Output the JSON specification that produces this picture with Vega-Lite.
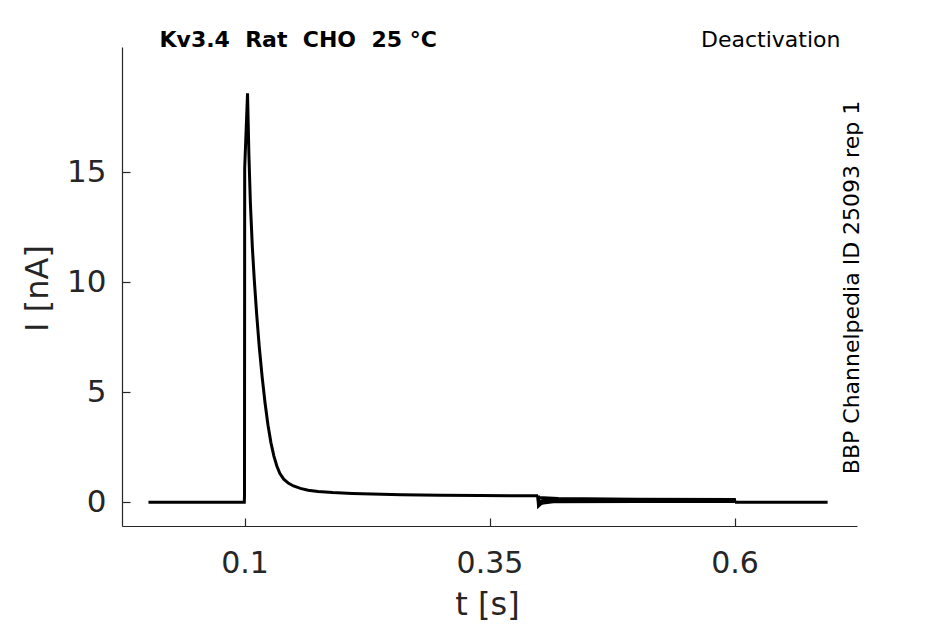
{
  "$schema": "https://vega.github.io/schema/vega-lite/v6.json",
  "width": 735,
  "height": 479,
  "autosize": {"type": "none"},
  "padding": {"left": 122, "top": 47, "right": 88, "bottom": 98},
  "background": "white",
  "config": {
    "view": {"stroke": null},
    "font": "DejaVu Sans",
    "axis": {"grid": false, "labelFont": "DejaVu Sans", "titleFont": "DejaVu Sans"}
  },
  "data": {
    "values": [
      {"t": 0.002, "I": 0, "sweep": "s0"},
      {"t": 0.0998, "I": 0, "sweep": "s0"},
      {"t": 0.1, "I": 0.3, "sweep": "s0"},
      {"t": 0.1002, "I": 15.2, "sweep": "s0"},
      {"t": 0.1031, "I": 18.6, "sweep": "s0"},
      {"t": 0.1045, "I": 15.8, "sweep": "s0"},
      {"t": 0.106, "I": 13.6, "sweep": "s0"},
      {"t": 0.108, "I": 11.6, "sweep": "s0"},
      {"t": 0.11, "I": 10.1, "sweep": "s0"},
      {"t": 0.1125, "I": 8.5, "sweep": "s0"},
      {"t": 0.115, "I": 7.1, "sweep": "s0"},
      {"t": 0.118, "I": 5.7, "sweep": "s0"},
      {"t": 0.121, "I": 4.5, "sweep": "s0"},
      {"t": 0.124, "I": 3.5, "sweep": "s0"},
      {"t": 0.127, "I": 2.7, "sweep": "s0"},
      {"t": 0.13, "I": 2.1, "sweep": "s0"},
      {"t": 0.133, "I": 1.65, "sweep": "s0"},
      {"t": 0.136, "I": 1.32, "sweep": "s0"},
      {"t": 0.14, "I": 1.05, "sweep": "s0"},
      {"t": 0.145, "I": 0.86, "sweep": "s0"},
      {"t": 0.15, "I": 0.74, "sweep": "s0"},
      {"t": 0.157, "I": 0.63, "sweep": "s0"},
      {"t": 0.165, "I": 0.55, "sweep": "s0"},
      {"t": 0.175, "I": 0.49, "sweep": "s0"},
      {"t": 0.19, "I": 0.44, "sweep": "s0"},
      {"t": 0.21, "I": 0.4, "sweep": "s0"},
      {"t": 0.23, "I": 0.37, "sweep": "s0"},
      {"t": 0.26, "I": 0.34, "sweep": "s0"},
      {"t": 0.3, "I": 0.32, "sweep": "s0"},
      {"t": 0.34, "I": 0.31, "sweep": "s0"},
      {"t": 0.37, "I": 0.3, "sweep": "s0"},
      {"t": 0.3995, "I": 0.29, "sweep": "s0"},
      {"t": 0.3995, "I": 0.29, "sweep": "s1"},
      {"t": 0.4, "I": 0.22, "sweep": "s1"},
      {"t": 0.42, "I": 0.17, "sweep": "s1"},
      {"t": 0.5, "I": 0.14, "sweep": "s1"},
      {"t": 0.6, "I": 0.12, "sweep": "s1"},
      {"t": 0.6005, "I": 0, "sweep": "s1"},
      {"t": 0.3995, "I": 0.29, "sweep": "s2"},
      {"t": 0.4, "I": 0.05, "sweep": "s2"},
      {"t": 0.41, "I": 0.11, "sweep": "s2"},
      {"t": 0.5, "I": 0.1, "sweep": "s2"},
      {"t": 0.6, "I": 0.09, "sweep": "s2"},
      {"t": 0.6005, "I": 0, "sweep": "s2"},
      {"t": 0.3995, "I": 0.29, "sweep": "s3"},
      {"t": 0.4, "I": -0.08, "sweep": "s3"},
      {"t": 0.41, "I": 0.05, "sweep": "s3"},
      {"t": 0.5, "I": 0.06, "sweep": "s3"},
      {"t": 0.6, "I": 0.06, "sweep": "s3"},
      {"t": 0.6005, "I": 0, "sweep": "s3"},
      {"t": 0.3995, "I": 0.29, "sweep": "s4"},
      {"t": 0.4, "I": -0.17, "sweep": "s4"},
      {"t": 0.403, "I": -0.05, "sweep": "s4"},
      {"t": 0.415, "I": 0.02, "sweep": "s4"},
      {"t": 0.5, "I": 0.03, "sweep": "s4"},
      {"t": 0.6, "I": 0.03, "sweep": "s4"},
      {"t": 0.6005, "I": 0, "sweep": "s4"},
      {"t": 0.6005, "I": 0, "sweep": "s5"},
      {"t": 0.695, "I": 0, "sweep": "s5"}
    ]
  },
  "resolve": {"axis": {"x": "independent", "y": "independent"}},
  "layer": [
    {
      "mark": {"type": "line", "color": "black", "strokeWidth": 3, "clip": true},
      "encoding": {
        "x": {
          "field": "t", "type": "quantitative",
          "scale": {"domain": [-0.025, 0.725], "nice": false, "zero": false},
          "axis": {
            "values": [0.1, 0.35, 0.6], "format": ".2~f",
            "title": "t [s]", "titleFontSize": 32, "titleFontWeight": "normal", "titleColor": "#262626",
            "titleBaseline": "alphabetic", "titleY": 88, "titleX": 365,
            "labelFontSize": 30, "labelColor": "#262626", "labelPadding": 30,
            "tickSize": -8, "tickColor": "#262626", "domainColor": "#262626", "domainWidth": 1.2, "tickWidth": 1.2
          }
        },
        "y": {
          "field": "I", "type": "quantitative",
          "scale": {"domain": [-1.08, 20.7], "nice": false, "zero": false},
          "axis": {
            "values": [0, 5, 10, 15],
            "title": "I [nA]", "titleFontSize": 32, "titleFontWeight": "normal", "titleColor": "#262626",
            "titleAngle": 270, "titleBaseline": "alphabetic", "titleX": -75, "titleY": 241, "titleAlign": "center",
            "labelFontSize": 31, "labelColor": "#262626", "labelPadding": 24,
            "tickSize": -8, "tickColor": "#262626", "domainColor": "#262626", "domainWidth": 1.2, "tickWidth": 1.2
          }
        },
        "detail": {"field": "sweep"}
      }
    },
    {
      "mark": {"type": "line", "strokeOpacity": 0},
      "encoding": {
        "x": {
          "field": "t", "type": "quantitative",
          "axis": {
            "orient": "top", "domain": false, "ticks": false, "labels": false,
            "title": "Kv3.4\u00a0\u00a0Rat\u00a0\u00a0CHO\u00a0\u00a025\u00a0°C", "titleFontSize": 22, "titleFontWeight": "bold", "titleColor": "black",
            "titleAlign": "left", "titleBaseline": "alphabetic", "titleX": 37, "titleY": -1
          }
        },
        "y": {
          "field": "I", "type": "quantitative",
          "axis": {
            "orient": "right", "domain": false, "ticks": false, "labels": false,
            "title": "BBP Channelpedia ID 25093 rep 1", "titleFontSize": 22, "titleFontWeight": "normal", "titleColor": "black",
            "titleAngle": 270, "titleAlign": "center", "titleBaseline": "alphabetic", "titleX": 1, "titleY": 240
          }
        },
        "detail": {"field": "sweep"}
      }
    },
    {
      "mark": {"type": "line", "strokeOpacity": 0},
      "encoding": {
        "x": {
          "field": "t", "type": "quantitative",
          "axis": {
            "orient": "top", "domain": false, "ticks": false, "labels": false,
            "title": "Deactivation", "titleFontSize": 22, "titleFontWeight": "normal", "titleColor": "black",
            "titleAlign": "right", "titleBaseline": "alphabetic", "titleX": 718, "titleY": -1
          }
        },
        "detail": {"field": "sweep"}
      }
    }
  ]
}
